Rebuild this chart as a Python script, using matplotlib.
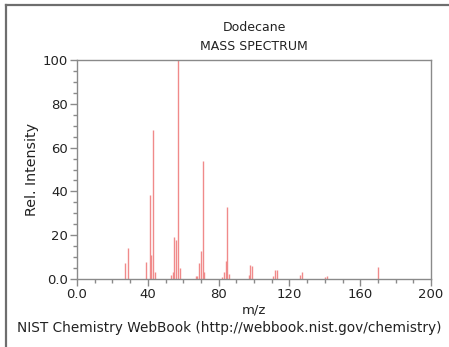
import matplotlib
matplotlib.use("Agg")
import matplotlib.pyplot as plt
from matplotlib.ticker import MultipleLocator, FixedLocator
from matplotlib.lines import Line2D

# Dodecane electron-ionisation mass spectrum (relative intensities)
mz = [27, 29, 39, 41, 42, 43, 44, 53, 54, 55, 56, 57, 58,
      67, 68, 69, 70, 71, 72, 82, 83, 84, 85, 86,
      97, 98, 99, 111, 112, 113, 126, 127, 140, 141, 170]
intensity = [7.3, 14, 7.9, 38.4, 11, 68, 3, 2, 3, 19, 18, 100, 5,
             1.5, 1.5, 7.3, 13, 54, 3.3, 1, 3, 8, 33, 2.3,
             2, 6.2, 6, 1.5, 4, 4, 2, 3.3, 1, 1.5, 5.6]

x_ticks = [0, 40, 80, 120, 160, 200]
x_tick_labels = ["0.0", "40", "80", "120", "160", "200"]
y_ticks = [0, 20, 40, 60, 80, 100]
y_tick_labels = ["0.0", "20", "40", "60", "80", "100"]

fig = plt.figure(figsize=(4.49, 3.47), dpi=100)
ax = fig.add_axes([0.1715, 0.196, 0.7885, 0.631])

ax.vlines(mz, 0, intensity, colors="#f08a8a", linewidth=1.0)

ax.set_xlim(0, 200)
ax.set_ylim(0, 100)
ax.xaxis.set_major_locator(FixedLocator(x_ticks))
ax.set_xticklabels(x_tick_labels)
ax.yaxis.set_major_locator(FixedLocator(y_ticks))
ax.set_yticklabels(y_tick_labels)
ax.xaxis.set_minor_locator(MultipleLocator(10))
ax.yaxis.set_minor_locator(MultipleLocator(5))

axis_gray = "#8a8a8a"
for sp in ax.spines.values():
    sp.set_color(axis_gray)
    sp.set_linewidth(1.0)
ax.tick_params(which="both", direction="out", colors=axis_gray,
               labelcolor="#222222", labelsize=9.5, width=1.0)
ax.tick_params(which="major", length=5, pad=1.5)
ax.tick_params(which="minor", length=3)

ax.set_xlabel("m/z", fontsize=9.5, color="#222222", labelpad=2)
ax.set_ylabel("Rel. Intensity", fontsize=10.3, color="#222222", labelpad=3)

fig.text(0.566, 0.922, "Dodecane", ha="center", va="center",
         fontsize=9, color="#222222")
fig.text(0.566, 0.866, "MASS SPECTRUM", ha="center", va="center",
         fontsize=9, color="#222222")
fig.text(0.038, 0.055, "NIST Chemistry WebBook (http://webbook.nist.gov/chemistry)",
         ha="left", va="center", fontsize=9.8, color="#222222")

# frame along the top and left edges
frame_color = "#6e6e6e"
fig.add_artist(Line2D([0.0135, 1.0], [0.985, 0.985], transform=fig.transFigure,
                      color=frame_color, linewidth=1.6))
fig.add_artist(Line2D([0.0135, 0.0135], [0.0, 0.985], transform=fig.transFigure,
                      color=frame_color, linewidth=1.6))

fig.savefig("out.png", dpi=100)
